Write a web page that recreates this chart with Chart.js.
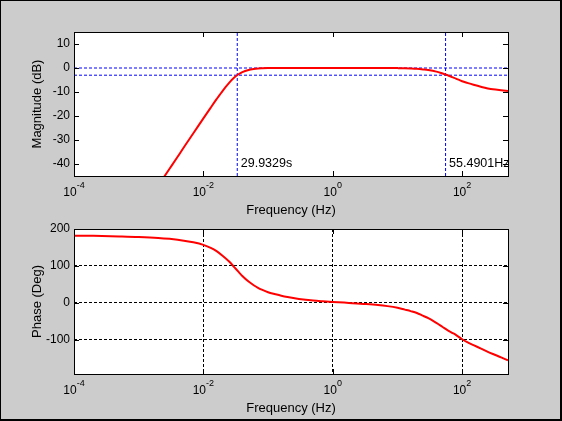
<!DOCTYPE html>
<html>
<head>
<meta charset="utf-8">
<script src="https://cdn.jsdelivr.net/npm/chart.js@4.4.1/dist/chart.umd.min.js"></script>
<style>
  html, body { margin: 0; padding: 0; background: #ccc; }
  #fig { position: relative; width: 562px; height: 421px; background: #ccc; overflow: hidden; }
  #fig canvas { position: absolute; left: 0; top: 0; }
  #frame { position: absolute; left: 0; top: 0; width: 562px; height: 421px; box-sizing: border-box;
           border: solid #000; border-width: 1px 2px 2px 1px; pointer-events: none; }
</style>
</head>
<body>
<div id="fig">
  <canvas id="phaseChart" width="562" height="421"></canvas>
  <canvas id="magChart" width="562" height="421"></canvas>
  <div id="frame"></div>
</div>
<script>
// frequency points (Hz)
const freqHz = [0.0001, 0.0002, 0.0005, 0.001, 0.002, 0.003, 0.004, 0.005, 0.007, 0.01,
  0.013, 0.016, 0.02, 0.025, 0.03, 0.035, 0.04, 0.05, 0.06, 0.07,
  0.08, 0.1, 0.13, 0.16, 0.2, 0.3, 0.5, 0.7, 1, 1.5,
  2, 3, 5, 7, 10, 13, 16, 20, 25, 30,
  40, 50, 60, 70, 80, 100, 120, 150, 200, 250,
  300, 400, 512];

const magDb = [-101, -89, -73, -61, -49, -42, -37, -33, -27.2, -21,
  -16.5, -13, -9.4, -6.2, -4, -2.6, -1.7, -0.8, -0.4, -0.2,
  -0.12, -0.04, 0, 0, 0, 0, 0, 0, 0, 0,
  0, 0, 0, -0.02, -0.05, -0.1, -0.2, -0.35, -0.6, -0.85,
  -1.5, -2.3, -3.0, -3.8, -4.4, -5.5, -6.2, -7.0, -7.9, -8.5,
  -8.9, -9.3, -9.6];

const phaseDeg = [182, 181.5, 180, 178.5, 176, 173.5, 171, 168.5, 164, 157,
  149, 140, 127, 112, 97, 84, 73, 58, 48, 41,
  36, 29, 23.5, 19.5, 16, 11, 6.5, 4.5, 2.7, 1,
  -0.5, -2.5, -5.5, -8.5, -13, -18, -22, -27, -35, -41,
  -54, -65, -74, -80.5, -86, -98, -106, -114, -124, -132,
  -138, -147, -155];

const freqRange = [1e-4, 512];
const magRange = [-45, 15];
const phaseRange = [-192, 200];
const freqTicks = [1e-4, 1e-2, 1, 1e2];
const magTicks = [-40, -30, -20, -10, 0, 10];
const phaseTicks = [-100, 0, 100, 200];

const refLevelsDb = [0, -3];
const timeConst = 29.9329;   // s
const cutoffHz = 55.4901;
const noteLevelDb = -40;

const FONT = "'Liberation Sans', Arial, sans-serif";
Chart.defaults.font.family = FONT;
Chart.defaults.color = '#000';

// white axes, black box, inward ticks, 10^n labels, text notes
const matlabAxes = {
  id: 'matlabAxes',
  beforeDraw(chart) {
    const a = chart.chartArea, ctx = chart.ctx;
    ctx.save();
    ctx.fillStyle = '#fff';
    ctx.fillRect(a.left, a.top, a.right - a.left, a.bottom - a.top);
    ctx.restore();
  },
  afterDraw(chart, args, opts) {
    const a = chart.chartArea, ctx = chart.ctx;
    const xs = chart.scales.x, ys = chart.scales.y;
    const tl = 5;
    ctx.save();
    ctx.strokeStyle = '#000';
    ctx.lineWidth = 1;
    ctx.strokeRect(a.left + 0.5, a.top + 0.5, a.right - a.left, a.bottom - a.top);
    ctx.beginPath();
    freqTicks.forEach(v => {
      const px = Math.round(xs.getPixelForValue(v)) + 0.5;
      ctx.moveTo(px, a.bottom); ctx.lineTo(px, a.bottom - tl);
      ctx.moveTo(px, a.top); ctx.lineTo(px, a.top + tl);
    });
    opts.yTicks.forEach(v => {
      const py = Math.round(ys.getPixelForValue(v)) + 0.5;
      ctx.moveTo(a.left, py); ctx.lineTo(a.left + tl, py);
      ctx.moveTo(a.right, py); ctx.lineTo(a.right - tl, py);
    });
    ctx.stroke();

    // 10^n tick labels
    ctx.fillStyle = '#000';
    ctx.textBaseline = 'middle';
    ctx.textAlign = 'left';
    freqTicks.forEach(v => {
      const px = xs.getPixelForValue(v);
      const exp = String(Math.round(Math.log10(v)));
      ctx.font = '12px ' + FONT;
      const wb = ctx.measureText('10').width;
      ctx.font = '9px ' + FONT;
      const we = ctx.measureText(exp).width;
      const x0 = px - (wb + we) / 2;
      const yb = a.bottom + 16.5;
      ctx.font = '12px ' + FONT;
      ctx.fillText('10', x0, yb);
      ctx.font = '9px ' + FONT;
      ctx.fillText(exp, x0 + wb, yb - 6.5);
    });

    (opts.notes || []).forEach(n => {
      ctx.font = '12.5px ' + FONT;
      ctx.fillText(n.text, xs.getPixelForValue(n.x) + 3.5, ys.getPixelForValue(n.y));
    });
    ctx.restore();
  }
};

function xScale(titlePadBottom, showGrid) {
  return {
    type: 'logarithmic',
    min: freqRange[0],
    max: freqRange[1],
    afterBuildTicks: s => { s.ticks = freqTicks.map(v => ({value: v})); },
    afterFit: s => { s.height = 44; },
    ticks: {display: false},
    grid: {display: showGrid, drawTicks: false, color: '#000', lineWidth: 1},
    border: {display: false, dash: [3, 2]},
    title: {display: true, text: 'Frequency (Hz)', color: '#000', font: {size: 13},
            padding: {top: 0, bottom: titlePadBottom}}
  };
}

function yScale(range, ticks, label, showGrid) {
  return {
    type: 'linear',
    min: range[0],
    max: range[1],
    afterBuildTicks: s => { s.ticks = ticks.map(v => ({value: v})); },
    afterFit: s => { s.width = 74; },
    ticks: {color: '#000', font: {size: 12}, padding: 4},
    grid: {display: showGrid, drawTicks: false, color: '#000', lineWidth: 1},
    border: {display: false, dash: [3, 2]},
    title: {display: true, text: label, color: '#000', font: {size: 13},
            padding: {top: 29.7, bottom: 0}}
  };
}

const curve = vals => freqHz.map((f, i) => ({x: f, y: vals[i]}));

const blueLine = pts => ({
  data: pts,
  borderColor: '#0000ff',
  borderWidth: 1,
  borderDash: [3, 2],
  pointRadius: 0,
  clip: 0
});

new Chart(document.getElementById('magChart'), {
  type: 'line',
  data: {
    datasets: [
      {
        data: curve(magDb),
        borderColor: '#ff0000',
        borderWidth: 2,
        pointRadius: 0,
        cubicInterpolationMode: 'monotone',
        clip: 0
      },
      ...refLevelsDb.map(level => blueLine([{x: freqRange[0], y: level}, {x: freqRange[1], y: level}])),
      ...[1 / timeConst, cutoffHz].map(f => blueLine([{x: f, y: magRange[0]}, {x: f, y: magRange[1]}]))
    ]
  },
  options: {
    responsive: false,
    animation: false,
    devicePixelRatio: 1,
    layout: {padding: {left: 0, right: 54, top: 32, bottom: 201}},
    plugins: {
      legend: {display: false},
      tooltip: {enabled: false},
      matlabAxes: {
        yTicks: magTicks,
        notes: [
          {x: 1 / timeConst, y: noteLevelDb, text: timeConst + 's'},
          {x: cutoffHz, y: noteLevelDb, text: cutoffHz + 'Hz'}
        ]
      }
    },
    scales: {
      x: xScale(1.5, false),
      y: yScale(magRange, magTicks, 'Magnitude (dB)', false)
    }
  },
  plugins: [matlabAxes]
});

new Chart(document.getElementById('phaseChart'), {
  type: 'line',
  data: {
    datasets: [{
      data: curve(phaseDeg),
      borderColor: '#ff0000',
      borderWidth: 2,
      pointRadius: 0,
      cubicInterpolationMode: 'monotone',
      clip: 0
    }]
  },
  options: {
    responsive: false,
    animation: false,
    devicePixelRatio: 1,
    layout: {padding: {left: 0, right: 54, top: 229, bottom: 3}},
    plugins: {
      legend: {display: false},
      tooltip: {enabled: false},
      matlabAxes: {yTicks: phaseTicks}
    },
    scales: {
      x: xScale(2.2, true),
      y: yScale(phaseRange, phaseTicks, 'Phase (Deg)', true)
    }
  },
  plugins: [matlabAxes]
});
</script>
</body>
</html>
